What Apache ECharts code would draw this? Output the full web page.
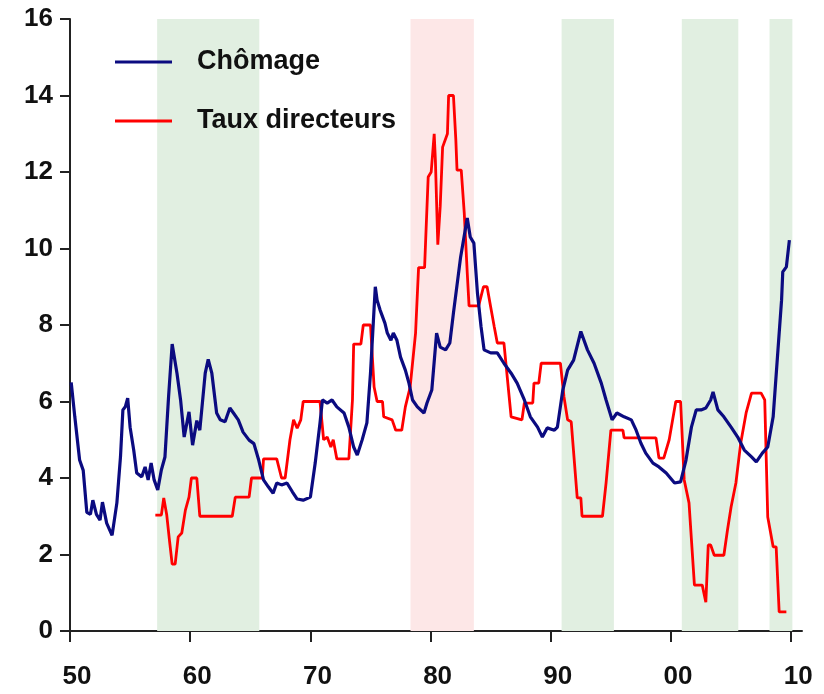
<!DOCTYPE html>
<html>
<head>
<meta charset="utf-8">
<script src="https://cdn.jsdelivr.net/npm/echarts@6/dist/echarts.min.js"></script>
<style>html,body{margin:0;padding:0;background:#fff}#c{width:824px;height:694px}</style>
</head>
<body>
<div id="c"></div>
<script>
// ---- data ----
const seriesNames = ['Chômage', 'Taux directeurs'];
const xTickYears = [1950, 1960, 1970, 1980, 1990, 2000, 2010];
const xTickLabels = ['50', '60', '70', '80', '90', '00', '10'];

const chomageYears = [1950.1,1950.4,1950.8,1951.1,1951.4,1951.7,1951.9,1952.2,1952.5,1952.7,1953.05,1953.5,1953.9,1954.2,1954.4,1954.6,1954.8,1955.0,1955.3,1955.55,1955.97,1956.25,1956.5,1956.75,1957.0,1957.3,1957.6,1957.9,1958.2,1958.5,1958.9,1959.2,1959.5,1959.9,1960.2,1960.55,1960.8,1961.25,1961.5,1961.8,1962.2,1962.5,1962.9,1963.3,1963.6,1964.0,1964.4,1964.9,1965.3,1965.7,1966.1,1966.5,1966.9,1967.2,1967.6,1968.05,1968.5,1968.9,1969.4,1970.0,1970.4,1970.8,1971.0,1971.4,1971.8,1972.2,1972.8,1973.2,1973.6,1973.9,1974.3,1974.7,1975.0,1975.4,1975.55,1975.8,1976.2,1976.4,1976.7,1976.9,1977.2,1977.5,1977.9,1978.2,1978.5,1978.9,1979.45,1979.7,1980.1,1980.5,1980.8,1981.25,1981.6,1981.9,1982.5,1983.05,1983.3,1983.6,1983.9,1984.2,1984.45,1985.0,1985.55,1986.1,1986.7,1987.2,1987.8,1988.3,1988.9,1989.3,1989.7,1990.3,1990.55,1991.0,1991.4,1991.9,1992.5,1993.05,1993.6,1994.2,1994.6,1995.1,1995.5,1996.1,1996.7,1997.1,1997.5,1997.9,1998.5,1999.0,1999.6,2000.3,2000.8,2001.25,2001.7,2002.1,2002.5,2002.9,2003.3,2003.5,2003.9,2004.4,2005.0,2005.55,2006.1,2006.7,2007.1,2007.6,2008.05,2008.5,2008.9,2009.2,2009.3,2009.6,2009.85];
const chomageValues = [6.5,5.6,4.47,4.2,3.1,3.05,3.42,3.05,2.9,3.37,2.82,2.5,3.35,4.55,5.78,5.86,6.09,5.33,4.73,4.13,4.03,4.29,3.95,4.39,3.95,3.69,4.21,4.55,6.12,7.5,6.74,6.04,5.07,5.73,4.86,5.5,5.25,6.74,7.1,6.74,5.7,5.52,5.47,5.83,5.7,5.52,5.2,4.99,4.9,4.47,3.95,3.77,3.6,3.87,3.82,3.87,3.64,3.45,3.42,3.5,4.39,5.44,6.04,5.96,6.04,5.86,5.7,5.33,4.81,4.6,4.99,5.44,6.74,9.0,8.65,8.39,8.05,7.79,7.6,7.79,7.6,7.16,6.82,6.48,6.04,5.86,5.7,5.96,6.3,7.79,7.42,7.35,7.53,8.31,9.78,10.8,10.3,10.14,8.83,7.95,7.35,7.27,7.27,7.0,6.74,6.48,6.04,5.6,5.33,5.07,5.31,5.25,5.33,6.3,6.82,7.08,7.83,7.35,7.0,6.48,6.04,5.52,5.7,5.6,5.52,5.25,4.91,4.65,4.39,4.29,4.13,3.87,3.9,4.47,5.33,5.78,5.78,5.83,6.04,6.25,5.78,5.6,5.33,5.07,4.73,4.55,4.42,4.65,4.81,5.6,7.35,8.65,9.39,9.52,10.22];

const tauxYears = [1957.1,1957.6,1957.8,1958.05,1958.3,1958.5,1958.75,1959.0,1959.3,1959.6,1959.9,1960.1,1960.55,1960.8,1963.5,1963.75,1964.9,1965.1,1966.0,1966.1,1967.2,1967.6,1967.9,1968.3,1968.6,1968.9,1969.2,1969.4,1970.8,1971.1,1971.4,1971.7,1971.9,1972.2,1973.2,1973.5,1973.6,1974.2,1974.4,1975.0,1975.3,1975.55,1976.0,1976.1,1976.8,1977.1,1977.6,1977.9,1978.3,1978.75,1979.0,1979.5,1979.6,1979.8,1980.05,1980.3,1980.4,1980.6,1980.8,1981.0,1981.4,1981.5,1981.9,1982.1,1982.2,1982.55,1982.8,1983.05,1983.2,1984.0,1984.4,1984.7,1985.0,1985.3,1985.55,1986.1,1986.7,1987.6,1987.8,1988.5,1988.6,1989.0,1989.2,1990.8,1991.1,1991.4,1991.7,1992.2,1992.5,1992.6,1994.3,1994.6,1995.0,1996.0,1996.1,1998.75,1999.0,1999.4,1999.85,2000.4,2000.8,2001.1,2001.5,2001.95,2002.6,2002.9,2003.1,2003.3,2003.6,2004.4,2004.7,2005.0,2005.4,2005.8,2006.25,2006.7,2007.5,2007.8,2008.05,2008.5,2008.75,2009.0,2009.6];
const tauxValues = [3.03,3.03,3.48,3.03,2.3,1.75,1.75,2.46,2.56,3.16,3.5,4.0,4.0,3.0,3.0,3.5,3.5,4.0,4.0,4.5,4.5,4.0,4.0,5.0,5.52,5.3,5.52,6.0,6.0,5.0,5.07,4.81,5.0,4.5,4.5,6.04,7.5,7.5,8.0,8.0,6.38,6.0,6.0,5.6,5.52,5.25,5.25,5.86,6.38,7.79,9.5,9.5,10.3,11.87,12.0,13.0,12.3,10.1,11.1,12.65,13.0,14.0,14.0,12.84,12.05,12.05,10.93,9.36,8.5,8.5,9.0,9.0,8.47,7.95,7.53,7.53,5.6,5.52,5.96,5.96,6.48,6.48,7.0,7.0,6.12,5.52,5.47,3.48,3.48,3.0,3.0,3.87,5.25,5.25,5.05,5.05,4.52,4.52,5.0,6.0,6.0,3.95,3.35,1.2,1.2,0.75,2.25,2.25,1.98,1.98,2.64,3.24,3.87,4.91,5.7,6.22,6.22,6.04,2.98,2.2,2.2,0.5,0.5];

const bandStarts = [1957.25, 1978.33, 1990.9, 2000.9, 2008.2];
const bandEnds   = [1965.75, 1983.6, 1995.25, 2005.6, 2010.1];
const bandKinds  = ['green', 'pink', 'green', 'green', 'green'];

// ---- build ----
const bandColor = { green: '#e1efe1', pink: '#fde7e7' };
const zip = (xs, ys) => xs.map((x, i) => [x, ys[i]]);
const font = "'Liberation Sans', Arial, sans-serif";

const chart = echarts.init(document.getElementById('c'), null, { renderer: 'canvas' });
chart.setOption({
  animation: false,
  backgroundColor: '#ffffff',
  grid: { left: 70, right: 22, top: 19, bottom: 63, containLabel: false },
  legend: {
    orient: 'vertical',
    left: 110,
    top: 43,
    icon: 'path://M0 0H20V1H0Z',
    itemWidth: 57,
    itemHeight: 4,
    itemGap: 31,
    data: seriesNames,
    textStyle: { fontFamily: font, fontWeight: 'bold', fontSize: 27, lineHeight: 28, color: '#111', padding: [0, 0, 0, 20] }
  },
  xAxis: {
    type: 'value',
    min: 1950,
    max: 2010.9,
    interval: 10,
    splitLine: { show: false },
    axisLine: { show: true, lineStyle: { color: '#222', width: 2 } },
    axisTick: { show: true, length: 11, inside: false, lineStyle: { color: '#222', width: 2 }, customValues: xTickYears },
    axisLabel: {
      customValues: xTickYears,
      formatter: v => { const i = xTickYears.indexOf(Math.round(v)); return i >= 0 ? xTickLabels[i] : ''; },
      fontFamily: font, fontWeight: 'bold', fontSize: 26, color: '#111',
      margin: 33, padding: [0, 0, 0, 14]
    }
  },
  yAxis: {
    type: 'value',
    min: 0,
    max: 16,
    interval: 2,
    splitLine: { show: false },
    axisLine: { show: true, lineStyle: { color: '#222', width: 2 } },
    axisTick: { show: true, length: 10, lineStyle: { color: '#222', width: 2 } },
    axisLabel: { fontFamily: font, fontWeight: 'bold', fontSize: 26, color: '#111', margin: 17, padding: [8, 0, 0, 0] }
  },
  series: [
    {
      name: '_bands',
      type: 'line',
      data: [],
      z: 1,
      silent: true,
      markArea: {
        silent: true,
        data: bandStarts.map((s, i) => [
          { xAxis: s, itemStyle: { color: bandColor[bandKinds[i]] } },
          { xAxis: bandEnds[i] }
        ])
      }
    },
    {
      name: seriesNames[0],
      type: 'line',
      z: 3,
      symbol: 'none',
      showSymbol: false,
      data: zip(chomageYears, chomageValues),
      lineStyle: { color: '#0b0b80', width: 3.2 },
      itemStyle: { color: '#0b0b80' }
    },
    {
      name: seriesNames[1],
      type: 'line',
      z: 2,
      symbol: 'none',
      showSymbol: false,
      data: zip(tauxYears, tauxValues),
      lineStyle: { color: '#ff0000', width: 2.8 },
      itemStyle: { color: '#ff0000' }
    }
  ]
});
</script>
</body>
</html>
